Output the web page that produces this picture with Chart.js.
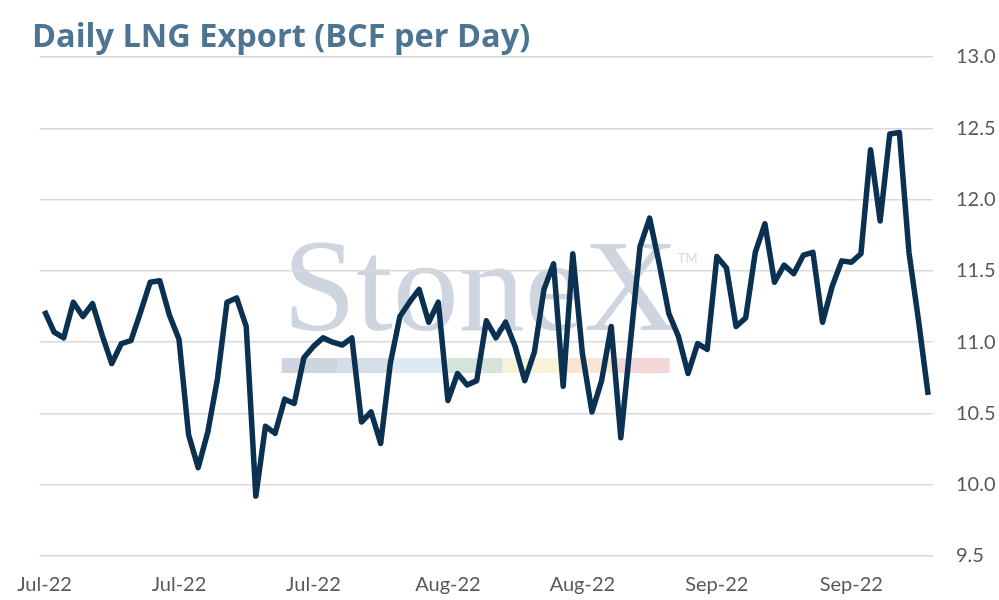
<!DOCTYPE html>
<html>
<head>
<meta charset="utf-8">
<script src="https://cdn.jsdelivr.net/npm/chart.js@4"></script>
<style>
    html, body { margin: 0; padding: 0; background: #fff; }
    #wrap { width: 999px; height: 600px; position: relative; }
</style>
</head>
<body>
<div id="wrap"><canvas id="lng-chart"></canvas></div>
<script>
const TITLE = 'Daily LNG Export (BCF per Day)';

// daily LNG export, BCF per day
const exportValues = [
    11.22, 11.07, 11.03, 11.28, 11.18, 11.27, 11.05, 10.85, 10.99, 11.01,
    11.21, 11.42, 11.43, 11.19, 11.02, 10.35, 10.12, 10.37, 10.74, 11.28,
    11.31, 11.11, 9.92, 10.41, 10.36, 10.60, 10.57, 10.89, 10.97, 11.03,
    11.00, 10.98, 11.03, 10.44, 10.51, 10.29, 10.85, 11.18, 11.28, 11.37,
    11.14, 11.28, 10.59, 10.78, 10.70, 10.73, 11.15, 11.03, 11.14, 10.97,
    10.73, 10.93, 11.37, 11.55, 10.69, 11.62, 10.92, 10.51, 10.73, 11.11,
    10.33, 11.00, 11.67, 11.87, 11.55, 11.20, 11.04, 10.78, 10.99, 10.95,
    11.60, 11.52, 11.11, 11.17, 11.63, 11.83, 11.42, 11.54, 11.48, 11.61,
    11.63, 11.14, 11.39, 11.57, 11.56, 11.62, 12.35, 11.85, 12.46, 12.47,
    11.63, 11.15, 10.63
];

// a date label every 14th point
const xTickLabels = ['Jul-22', 'Jul-22', 'Jul-22', 'Aug-22', 'Aug-22', 'Sep-22', 'Sep-22'];
const tickEvery = 14;

const yMin = 9.5, yMax = 13.0, yStep = 0.5;

const categories = exportValues.map((v, i) => i);

const FONT = 'Lato, "Open Sans", sans-serif';

// faint StoneX logo behind the plot
const watermark = {
    id: 'watermark',
    beforeDraw(chart) {
        const { ctx, chartArea: a } = chart;
        const x0 = a.left + 243, base = a.top + 273;
        ctx.save();
        ctx.fillStyle = '#ced5de';
        ctx.font = '132px "Liberation Serif", "DejaVu Serif", serif';
        ctx.textBaseline = 'alphabetic';
        ctx.fillText('StoneX', x0, base);
        ctx.font = '13px ' + FONT;
        ctx.fillStyle = '#d3d9e1';
        ctx.fillText('TM', x0 + 395, base - 67);
        const stripe = [
            ['#cfd5de', 56], ['#d5dde7', 54], ['#dde9f3', 56], ['#d6e3da', 55],
            ['#f6f3d9', 57], ['#f8e6d2', 57], ['#f2d6d8', 53]
        ];
        let sx = x0 - 1;
        stripe.forEach(([c, w]) => {
            ctx.fillStyle = c;
            ctx.fillRect(sx, base + 28, w, 15);
            sx += w;
        });
        ctx.restore();
    }
};

new Chart(document.getElementById('lng-chart'), {
    type: 'line',
    data: {
        labels: categories,
        datasets: [{
            data: exportValues,
            borderColor: '#0b3152',
            borderWidth: 5.5,
            borderJoinStyle: 'round',
            borderCapStyle: 'butt',
            tension: 0,
            pointRadius: 0,
            fill: false,
        }]
    },
    options: {
        responsive: true,
        maintainAspectRatio: false,
        animation: false,
        // y axis reserves padding on both sides of its labels, pull it back right
        layout: { padding: { left: 32, right: -19.5, top: 0, bottom: 3 } },
        plugins: {
            legend: { display: false },
            tooltip: { enabled: false },
            title: {
                display: true,
                text: TITLE,
                align: 'start',
                color: '#4d7592',
                font: { family: '"Open Sans", Lato, sans-serif', size: 32.5, weight: 'bold', lineHeight: 1 },
                padding: { top: 21, bottom: 3.5 }
            }
        },
        scales: {
            x: {
                offset: true,
                grid: { display: false, drawTicks: false },
                border: { display: false },
                afterFit: s => {
                    s.paddingLeft = Math.max(s.paddingLeft, 39);
                    s.paddingRight = 0;
                    s.height = 41;
                },
                ticks: {
                    autoSkip: false,
                    maxRotation: 0,
                    padding: 17,
                    color: '#595959',
                    font: { family: FONT, size: 20 },
                    callback: (v, i) => i % tickEvery === 0 ? xTickLabels[i / tickEvery] : ''
                }
            },
            y: {
                position: 'right',
                min: yMin,
                max: yMax,
                grid: { color: '#d9d9d9', lineWidth: 1.5, drawTicks: false },
                border: { display: false },
                ticks: {
                    stepSize: yStep,
                    padding: 23,
                    color: '#595959',
                    font: { family: FONT, size: 20 },
                    callback: v => v.toFixed(1)
                }
            }
        }
    },
    plugins: [watermark]
});
</script>
</body>
</html>
